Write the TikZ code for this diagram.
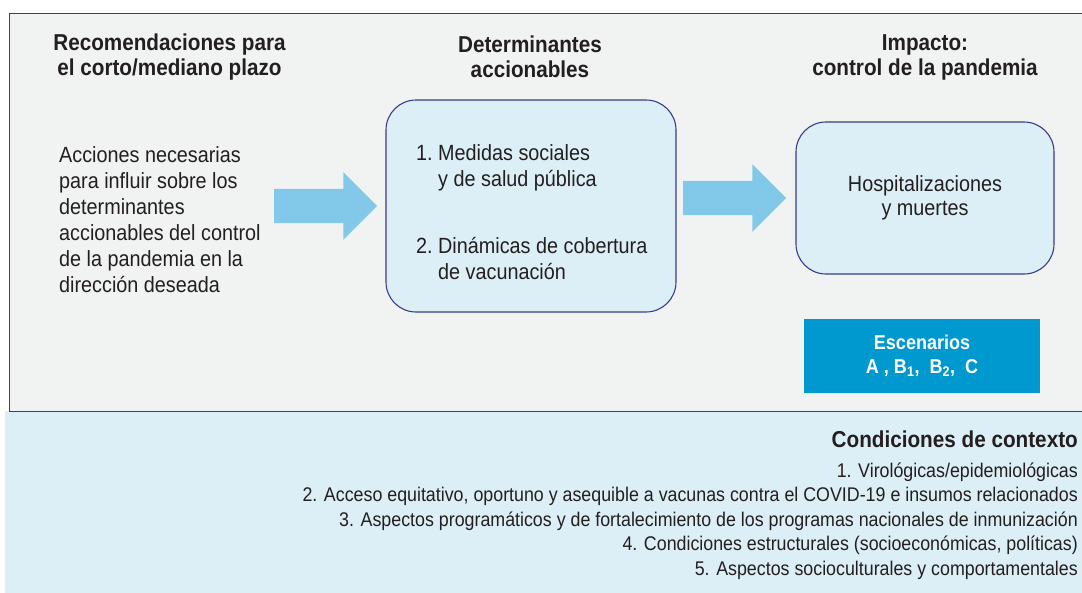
\documentclass[tikz,border=0pt]{standalone}
\usepackage{fontspec}
\setmainfont{Liberation Sans}[FakeStretch=0.9]
\usetikzlibrary{positioning,shapes.arrows}

\definecolor{framegray}{HTML}{F1F2F2}
\definecolor{framenavy}{HTML}{3A3C8E}
\definecolor{boxblue}{HTML}{DCEEF6}
\definecolor{arrowblue}{HTML}{82C9E9}
\definecolor{scenblue}{HTML}{0099CF}
\definecolor{txtgray}{HTML}{231F20}

\tikzset{
  heading/.style={align=center, text=txtgray, font=\fontsize{23}{25}\selectfont\bfseries},
  bodytxt/.style={text=txtgray, inner sep=0pt, font=\fontsize{22}{26}\selectfont},
  ctxtxt/.style={text=txtgray, inner sep=0pt, font=\fontsize{19.8}{24.5}\selectfont},
  roundbox/.style={draw=framenavy, line width=1.1pt, fill=boxblue, rounded corners=30pt},
  bigarrow/.style={single arrow, fill=arrowblue, inner xsep=0pt, inner ysep=17pt,
    minimum width=67pt, single arrow head extend=16.5pt, minimum height=103pt}
}

\begin{document}
\begin{tikzpicture}[x=1pt,y=-1pt]
\useasboundingbox (0,0) rectangle (1082,592);
\clip (0,0) rectangle (1082,592);
% background
\fill[boxblue] (5,411) rectangle (1090,600);
\draw[framenavy, fill=framegray, line width=1pt] (9,13) rectangle (1090,411);

\node[heading] (rechead) at (169.5,57) {Recomendaciones para\\el corto/mediano plazo};
\node[heading] (dethead) at (530,57) {Determinantes\\accionables};
\node[heading] (imphead) at (925,57) {Impacto:\\control de la pandemia};

\node[bodytxt, align=left, anchor=north west] (rec) at (59,146.2)
  {Acciones necesarias\\para influir sobre los\\determinantes\\accionables del control\\de la pandemia en la\\dirección deseada};

\node[roundbox, minimum width=290pt, minimum height=212pt] (det) at (531,206) {};
\node[bodytxt, anchor=north west] (detlist) at (416,141.8)
  {\begin{tabular}{@{}l@{\ }l@{}}
   1. & Medidas sociales\\
      & y de salud pública\\[41pt]
   2. & Dinámicas de cobertura\\
      & de vacunación
   \end{tabular}};

\node[roundbox, minimum width=258pt, minimum height=152pt, align=center,
  text=txtgray, font=\fontsize{22}{24}\selectfont] (imp) at (925,198)
  {Hospitalizaciones\\y muertes};

\node[bigarrow, left=8pt of det] (arr1) {};
\node[bigarrow, left=9pt of imp] (arr2) {};

\node[fill=scenblue, minimum width=236pt, minimum height=74pt, align=center, text=white,
  font=\fontsize{20}{24}\selectfont\bfseries] (esc) at (922,356)
  {Escenarios\\A~,~B\textsubscript{1},~~B\textsubscript{2},~~C};

% condiciones de contexto
\node[ctxtxt, anchor=base east, font=\fontsize{23}{25}\selectfont\bfseries] (ctxhead) at (1078,447)
  {Condiciones de contexto};
\node[ctxtxt, anchor=base east] (ctx1) at (1078,477) {1. Virológicas/epidemiológicas};
\node[ctxtxt, anchor=base east] (ctx2) at (1078,501.5)
  {2. Acceso equitativo, oportuno y asequible a vacunas contra el COVID-19 e insumos relacionados};
\node[ctxtxt, anchor=base east] (ctx3) at (1078,526)
  {3. Aspectos programáticos y de fortalecimiento de los programas nacionales de inmunización};
\node[ctxtxt, anchor=base east] (ctx4) at (1078,550.5)
  {4. Condiciones estructurales (socioeconómicas, políticas)};
\node[ctxtxt, anchor=base east] (ctx5) at (1078,575)
  {5. Aspectos socioculturales y comportamentales};
\end{tikzpicture}
\end{document}
